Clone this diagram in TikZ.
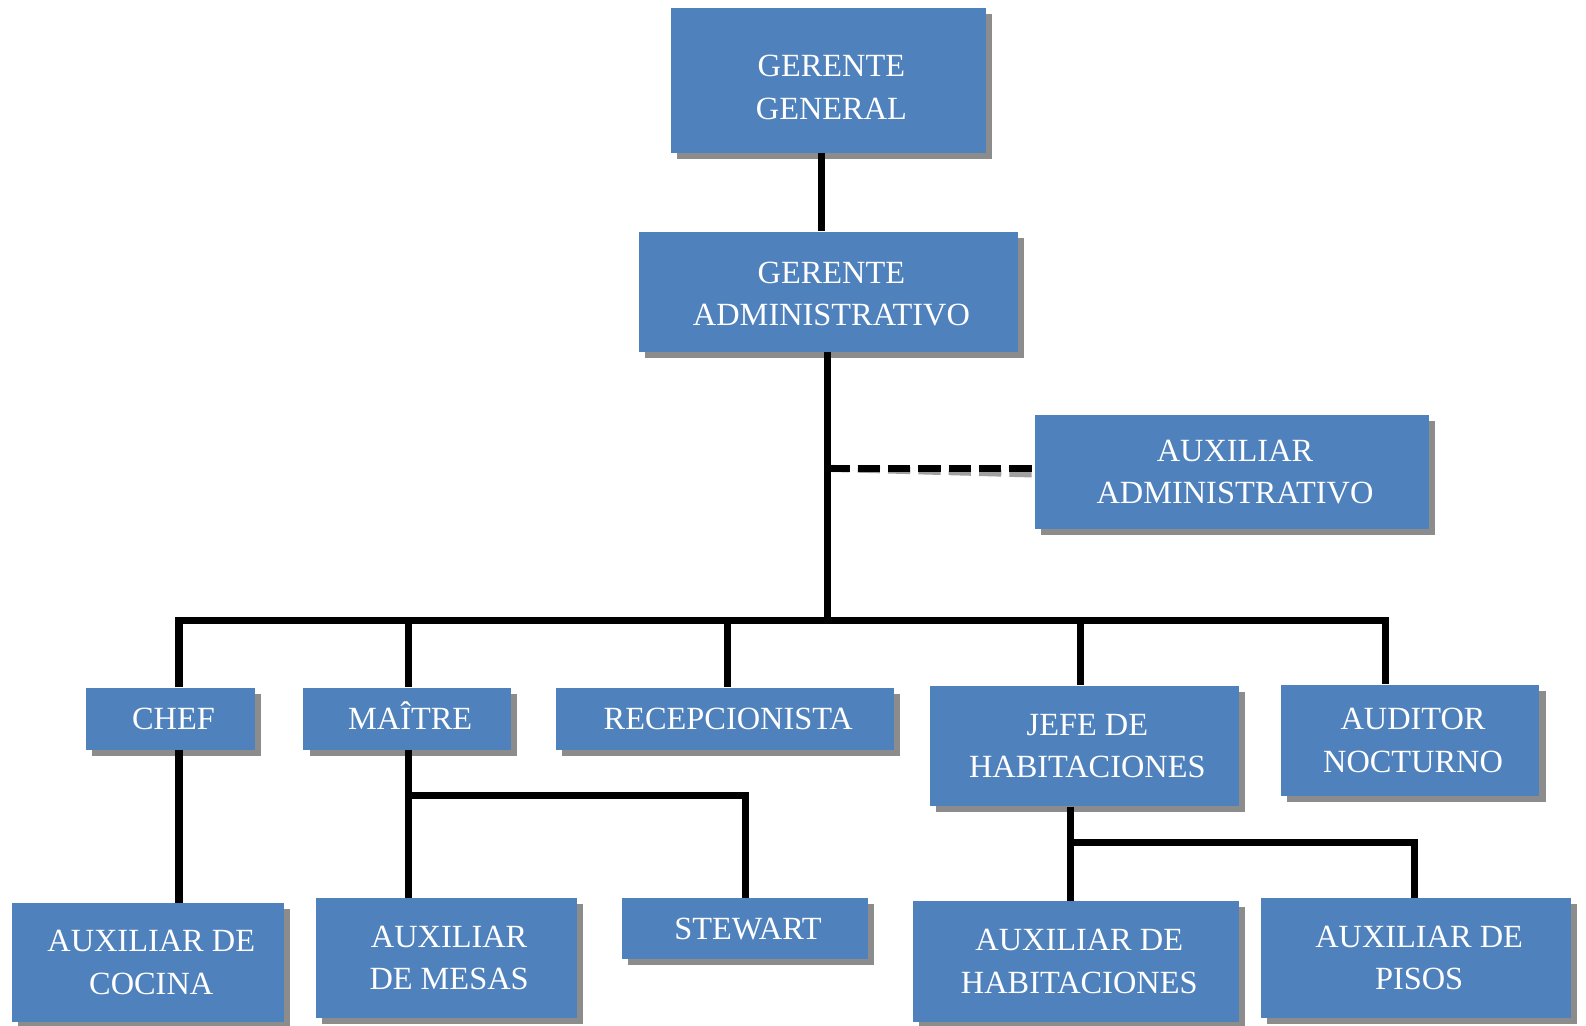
\documentclass[tikz,border=0pt]{standalone}
\usepackage{fontspec}
\setmainfont{Liberation Serif}
\definecolor{boxblue}{HTML}{4F81BD}
\definecolor{boxshade}{HTML}{8C8C8C}
\definecolor{lineshade}{HTML}{A0A0A0}
\tikzset{
  orgnode/.style={fill=boxblue, inner sep=0pt},
  orgtext/.style={text=white, align=center, inner sep=0pt, xshift=1.5pt,
    font=\fontsize{16}{21}\selectfont},
  conn/.style={line width=3.5pt, black, line join=miter},
  connshade/.style={line width=3.5pt, lineshade, yshift=-2.8pt},
  dotted link/.style={dash pattern=on 11pt off 4pt}
}
% box from (x1,y1) to (x2,y2) with a drop shadow
\newcommand\orgbox[7][]{%
  \fill[boxshade] ({#3+6},{#4+6}) rectangle ({#5+6},{#6+6});
  \pgfmathsetmacro\boxw{(#5-#3)*0.5}%
  \pgfmathsetmacro\boxh{(#6-#4)*0.5}%
  \node[orgnode, minimum width=\boxw pt, minimum height=\boxh pt]
    (#2) at ({(#3+#5)/2},{(#4+#6)/2}) {};
  \node[orgtext, #1] (#2-label) at (#2.center) {#7};
}
\begin{document}
\begin{tikzpicture}[x=0.5pt, y=-0.5pt]
\useasboundingbox (0,0) rectangle (1568,1014);

% junction points of the connectors
\coordinate (busL) at (177,613);
\coordinate (busC) at (818,613);
\coordinate (busR) at (1370,613);
\coordinate (dashL) at (818,463);
\coordinate (maiJ) at (404,786);
\coordinate (maiR) at (737,786);
\coordinate (jefJ) at (1058,833);
\coordinate (jefR) at (1398,833);

% connector shadows
\draw[connshade] (busL) -- (busR);
\draw[connshade] (maiJ) -- (maiR);
\draw[connshade] (jefJ) -- (jefR);
\draw[connshade, dotted link] (dashL) -- (1023,463);

\orgbox[yshift=-3.5pt]{gg}{663}{8}{975}{151}{GERENTE\\GENERAL}
\orgbox[yshift=-1pt]{ga}{632}{229}{1006}{348}{GERENTE\\ADMINISTRATIVO}
\orgbox{aux}{1023}{410}{1413}{523}{AUXILIAR\\ADMINISTRATIVO}
\orgbox{chef}{85}{680}{252}{741}{CHEF}
\orgbox[yshift=1.5pt]{mai}{300}{680}{505}{741}{MAÎTRE}
\orgbox{rec}{550}{680}{884}{741}{RECEPCIONISTA}
\orgbox{jef}{919}{678}{1225}{797}{JEFE DE\\HABITACIONES}
\orgbox{aud}{1266}{677}{1522}{787}{AUDITOR\\NOCTURNO}
\orgbox{coc}{12}{893}{281}{1010}{AUXILIAR DE\\COCINA}
\orgbox{mes}{312}{888}{570}{1006}{AUXILIAR\\DE MESAS}
\orgbox{ste}{615}{888}{858}{948}{STEWART}
\orgbox{hab}{903}{891}{1225}{1010}{AUXILIAR DE\\HABITACIONES}
\orgbox{pis}{1247}{888}{1553}{1006}{AUXILIAR DE\\PISOS}

% connectors
\draw[conn] (gg.south -| 812,0) -- (ga.north -| 812,0);
\draw[conn] (ga.south -| busC) -- (busC);
\draw[conn, dotted link] (dashL) -- (aux.west |- dashL);
\draw[conn] (chef.north -| busL) -- (busL) -- (busR) -- (aud.north -| busR);
\draw[conn] (busC -| 404,0) -- (mai.north -| 404,0);
\draw[conn] (busC -| 719,0) -- (rec.north -| 719,0);
\draw[conn] (busC -| 1068,0) -- (jef.north -| 1068,0);
\draw[conn] (chef.south -| busL) -- (coc.north -| busL);
\draw[conn] (mai.south -| maiJ) -- (mes.north -| maiJ);
\draw[conn] (maiJ) -- (maiR) -- (ste.north -| maiR);
\draw[conn] (jef.south -| jefJ) -- (hab.north -| jefJ);
\draw[conn] (jefJ) -- (jefR) -- (pis.north -| jefR);
\end{tikzpicture}
\end{document}
